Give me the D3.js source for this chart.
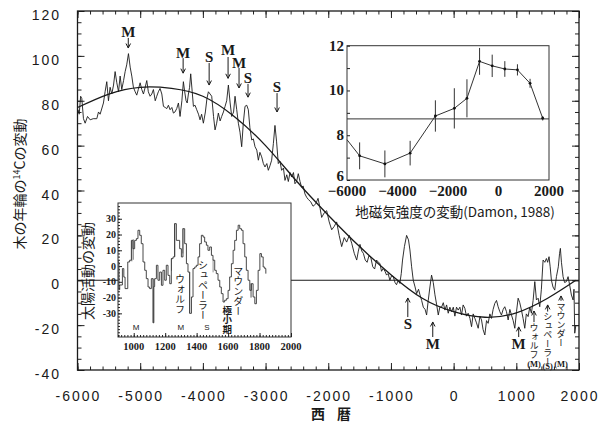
<!DOCTYPE html>
<html>
<head>
<meta charset="utf-8">
<script src="https://cdn.jsdelivr.net/npm/d3@7"></script>
<style>
body { margin: 0; background: #fff; }
svg text { fill: #1a1a1a; }
.domain { display: none; }
.tick line { stroke: #222; stroke-width: 1; }
.jp { font-family: "Noto Sans CJK JP", sans-serif; }
.num { font-family: "Liberation Sans", Arial, sans-serif; }
.serif { font-family: "Liberation Serif", "Times New Roman", serif; font-weight: bold; }
</style>
</head>
<body>
<svg id="chart" width="612" height="426"></svg>
<script>
// 14C record from tree rings (year, permil)
var c14 = [[-5990,76],[-5973,74],[-5950,82],[-5931,81],[-5905,72],[-5878,70],[-5840,73],[-5798,71.5],[-5750,72],[-5692,72],[-5665,75],[-5639,74],[-5586,79],[-5560,84],[-5533,88.5],[-5506,80],[-5480,86],[-5453,83],[-5425,87],[-5400,93],[-5373,88],[-5345,84],[-5320,91],[-5294,85],[-5265,89],[-5240,93],[-5215,96],[-5187,101],[-5160,95],[-5134,91],[-5108,86],[-5080,84],[-5055,82.5],[-5030,85],[-5001,88],[-4975,85],[-4948,83],[-4920,86],[-4895,89],[-4870,84],[-4842,82],[-4815,83],[-4789,85],[-4760,80],[-4736,82],[-4710,84],[-4683,85.5],[-4655,83],[-4629,77.5],[-4600,77],[-4576,76.5],[-4550,78],[-4523,76],[-4495,77],[-4470,74.5],[-4445,75],[-4417,76.5],[-4390,79],[-4364,73],[-4335,80],[-4311,88.5],[-4290,84],[-4268,80],[-4250,79],[-4231,83],[-4212,86],[-4194,92],[-4170,84],[-4151,77.5],[-4125,78],[-4098,76],[-4070,74],[-4045,71.5],[-4020,74],[-3992,70],[-3960,75],[-3935,81],[-3912,84],[-3885,83],[-3859,82],[-3830,73],[-3806,67],[-3780,70],[-3753,74.5],[-3725,71],[-3700,73],[-3672,75],[-3646,77.5],[-3620,80],[-3593,87],[-3565,79],[-3540,73],[-3510,75],[-3487,82],[-3460,76],[-3434,70],[-3408,66],[-3381,59.5],[-3355,70],[-3328,77.5],[-3300,78],[-3275,76],[-3250,68],[-3221,62.5],[-3195,63],[-3168,59.5],[-3140,58],[-3115,53.5],[-3090,57],[-3062,55],[-3035,52],[-3009,50.5],[-2980,52],[-2956,49],[-2930,51],[-2903,53.5],[-2875,61],[-2850,69],[-2825,62],[-2797,52],[-2770,53],[-2744,49],[-2715,50],[-2690,44.5],[-2662,47],[-2637,44],[-2610,48],[-2584,46],[-2555,48],[-2531,43],[-2505,44],[-2478,47.5],[-2450,44],[-2425,41.5],[-2400,42],[-2372,38.5],[-2345,37],[-2318,36],[-2280,35],[-2243,33],[-2200,34],[-2163,36.5],[-2130,32],[-2105,28],[-2065,30],[-2025,31],[-1985,26],[-1945,22.5],[-1905,24],[-1866,26],[-1826,20],[-1786,15],[-1745,19],[-1706,17],[-1665,20],[-1626,16.5],[-1585,12],[-1546,9],[-1520,13],[-1494,16],[-1465,13],[-1440,12],[-1410,9],[-1380,8],[-1350,11],[-1320,10],[-1290,6],[-1260,5],[-1230,9],[-1200,8],[-1176,7.5],[-1150,4],[-1123,5.3],[-1095,4],[-1070,2.3],[-1045,3],[-1017,0],[-990,2],[-964,1.6],[-935,-1],[-911,-2],[-885,0],[-858,-1.4],[-835,3],[-815,9],[-785,15],[-750,20],[-720,18],[-697,13.5],[-670,6],[-644,0],[-615,-3],[-590,-6],[-560,-4],[-537,-6.5],[-510,-9],[-484,-12],[-455,-13],[-431,-15.5],[-405,-9],[-378,-3],[-352,2.3],[-325,-1],[-298,-6.5],[-270,-11],[-245,-15.5],[-220,-12],[-192,-12],[-165,-10],[-139,-13.3],[-112,-11],[-86,-14.7],[-60,-12],[-33,-14],[-5,-12],[20,-16],[46,-12],[73,-13.3],[100,-12],[126,-15.5],[152,-11],[179,-12.5],[205,-16],[232,-14.7],[260,-17],[286,-20.7],[312,-15],[339,-17],[365,-19],[392,-21.4],[420,-16],[445,-17.7],[470,-22],[498,-24.4],[525,-18],[551,-19.2],[578,-15],[604,-17],[630,-13],[657,-10.3],[684,-9],[710,-11.8],[737,-14],[763,-15.5],[790,-13],[816,-11.8],[843,-14],[870,-17.7],[897,-13],[923,-15.5],[950,-18],[976,-21.4],[1003,-14],[1029,-8],[1055,-10],[1082,-13.3],[1108,-17],[1135,-21.4],[1160,-15],[1188,-16.2],[1215,-12],[1241,-14.7],[1268,-9],[1295,-0.6],[1321,-8.8],[1348,-8],[1374,-11.8],[1400,-4],[1427,9],[1455,8],[1480,9.7],[1500,8],[1522,10.5],[1540,6],[1560,0],[1585,-3],[1613,-4.4],[1640,1.6],[1670,6],[1690,12],[1703,14.2],[1720,8],[1746,1.6],[1770,-1],[1799,-0.6],[1826,1.6],[1850,-2],[1879,-6.6],[1906,-8.8],[1920,-4],[1932,-23.6],[1950,-20]];

// long-term trend curve
var trend = [[-6000,77],[-5500,83],[-5000,86],[-4500,85.5],[-4000,82],[-3500,73],[-3000,60],[-2500,44],[-2000,29],[-1500,15],[-1000,2.5],[-500,-8],[0,-14],[500,-16.5],[1000,-14.5],[1500,-8],[1950,0]];

// geomagnetic field intensity (Damon, 1988): year, value, error
var geoYears = [-5500,-4500,-3500,-2500,-1750,-1250,-750,-250,250,750,1250,1750];
var geoVals  = [7.08,6.72,7.2,8.86,9.2,9.65,11.3,11.1,10.96,10.92,10.32,8.76];
var geoErr   = [0.6,0.6,0.55,0.7,0.9,0.85,0.6,0.5,0.35,0.25,0.2,0.1];
var geoStart = [-6000,7.8];
var geoMean = 8.73;

// solar activity (step series)
var solar = [[900,2.6],[906,-15],[911,-12],[928,-1.6],[937,-7],[945,-14.3],[962,2.6],[974,3.7],[985,16.3],[995,11],[1006,16.3],[1017,17.4],[1027,22.7],[1038,19.5],[1048,14.2],[1059,2.6],[1070,-2.7],[1080,-8],[1091,-13.3],[1101,-14.3],[1112,-8],[1123,-36],[1128,-13],[1133,-8],[1144,0.5],[1154,-9],[1165,-3.8],[1176,-12.2],[1186,-2.7],[1197,-9],[1207,0.5],[1218,-5.9],[1229,-11.2],[1239,4.7],[1250,5.8],[1260,26.9],[1271,16.3],[1282,16.3],[1292,11],[1303,5.8],[1313,23.7],[1324,14.2],[1335,1.5],[1345,-3.8],[1356,-30],[1367,-19.6],[1377,-1.6],[1388,-0.6],[1398,0.5],[1409,5.8],[1419,14.2],[1430,19.5],[1441,18.4],[1451,15.3],[1462,13.2],[1472,10],[1483,12.1],[1494,6.8],[1504,3.7],[1515,-2.7],[1525,-4.8],[1536,-9],[1547,-13.3],[1557,-17.5],[1568,-22.8],[1578,-21.7],[1589,-20.7],[1600,-15.4],[1610,-6.9],[1621,1.5],[1632,10],[1642,16.3],[1653,22.7],[1664,25.9],[1674,23.7],[1685,22.7],[1695,14.2],[1706,5.8],[1716,-2.7],[1727,-9],[1738,-15.4],[1748,-11.2],[1759,-19.6],[1770,-23.9],[1780,-15.4],[1791,-2.7],[1802,7.9],[1812,5.8],[1823,-0.6],[1833,-1.6],[1840,-4.8]];
// shaded (hatched) bars in the solar series: year from, year to, low, high
var solarShade = [[900,905,-15,3],[985,991,3,16],[994,1000,4,17],[1121,1126,-36,-8],[1237,1242,-3,5],[1257,1264,6,27],[1310,1315,8,24],[1352,1358,-30,-4],[1502,1507,-4,4],[1742,1750,-20,-11]];

var mainXTicks = [-6000,-5000,-4000,-3000,-2000,-1000,0,1000,2000];
var mainYTicks = [-40,-20,0,20,40,60,80,100,120];
var geoXTicks = [-6000,-4000,-2000,0,2000];
var geoYTicks = [6,8,10,12];
var solarXTicks = [1000,1200,1400,1600,1800,2000];
var solarYTicks = [-30,-20,-10,0,10,20,30];

// M / S markers on the main record (label, year, label value, arrow from, arrow to)
var marksDown = [["M",-5190,110.6,108,103.5],["M",-4315,101.3,99,92.3],["S",-3900,99.5,96.8,87],
  ["M",-3598,102.6,99.5,90],["M",-3423,96.8,94.6,85.7],["S",-3280,90.1,87.5,81.6],["S",-2817,86.1,83.4,75]];
var marksUp = [["S",-731,-19.5,-16.4,-7.9],["M",-333,-28.4,-25.3,-18.6],["M",1038,-28.4,-25.3,-20.8]];
// minima: name, type, year, text top, type label, arrow tip
var minima = [["ウォルフ","(M)",1282,-19.1,-37.2,-13.7],["シュペーラー","(S)",1500,-14.4,-38,-11],["マウンダー","(M)",1713,-9.6,-37.2,-7]];

var svg = d3.select("#chart");
var x = d3.scaleLinear().domain([-6000,2000]).range([77.5,579]);
var y = d3.scaleLinear().domain([-40,120]).range([370,11]);

// ticks on four sides, pointing inward
function inTicks(axis, tr, vals, len) {
	svg.append("g").attr("transform", tr)
		.call(axis.tickValues(vals).tickSize(-len).tickFormat(""));
}
inTicks(d3.axisBottom(x), "translate(0,370)", d3.range(-6000,2001,200), 3.5);
inTicks(d3.axisBottom(x), "translate(0,370)", mainXTicks, 7);
inTicks(d3.axisTop(x), "translate(0,11)", d3.range(-6000,2001,200), 3.5);
inTicks(d3.axisTop(x), "translate(0,11)", mainXTicks, 7);
inTicks(d3.axisLeft(y), "translate(77.5,0)", d3.range(-40,121,5), 4);
inTicks(d3.axisLeft(y), "translate(77.5,0)", mainYTicks, 7);
inTicks(d3.axisRight(y), "translate(579,0)", d3.range(-40,121,5), 4);
inTicks(d3.axisRight(y), "translate(579,0)", mainYTicks, 7);

svg.append("rect").attr("x",77.5).attr("y",11).attr("width",579-77.5).attr("height",359)
	.attr("fill","none").attr("stroke","#1a1a1a").attr("stroke-width",1.3);

svg.selectAll("text.xl").data(mainXTicks).enter().append("text")
	.attr("class","num").attr("x", function(d){ return x(d) + 1; }).attr("y",401)
	.attr("text-anchor","middle").style("font-size","14px").style("letter-spacing","2px")
	.text(function(d){ return d; });
svg.selectAll("text.yl").data(mainYTicks).enter().append("text")
	.attr("class","num").attr("x",61).attr("y", function(d){ return y(d) + 9; })
	.attr("text-anchor","end").style("font-size","14px").style("letter-spacing","2px")
	.text(function(d){ return d; });

svg.append("text").attr("class","jp").attr("x",337).attr("y",419).attr("text-anchor","middle")
	.style("font-size","14px").style("font-weight","bold").style("letter-spacing","12px").text("西暦");

var yl = svg.append("text").attr("class","jp").attr("transform","translate(25,184) rotate(-90)")
	.attr("text-anchor","middle").style("font-size","14px");
yl.append("tspan").text("木の年輪の");
yl.append("tspan").style("font-size","9px").attr("dy",-5).text("14");
yl.append("tspan").attr("dy",5).text("Cの変動");

// zero line, record and trend
svg.append("line").attr("x1",x(-6000)).attr("x2",x(2000)).attr("y1",y(0)).attr("y2",y(0))
	.attr("stroke","#1a1a1a").attr("stroke-width",1);
var lineRaw = d3.line().x(function(d){ return x(d[0]); }).y(function(d){ return y(d[1]); });
var lineSmooth = d3.line().curve(d3.curveNatural).x(function(d){ return x(d[0]); }).y(function(d){ return y(d[1]); });
svg.append("path").datum(c14).attr("d",lineRaw).attr("fill","none").attr("stroke","#1a1a1a").attr("stroke-width",0.9);
svg.append("path").datum(trend).attr("d",lineSmooth).attr("fill","none").attr("stroke","#1a1a1a").attr("stroke-width",1.3);

// arrows
function arrow(xp, y0, y1) {
	var d = y1 > y0 ? 1 : -1;
	svg.append("path").attr("d","M"+xp+","+y0+"L"+xp+","+y1+"M"+(xp-2.3)+","+(y1-d*4.5)+"L"+xp+","+y1+"L"+(xp+2.3)+","+(y1-d*4.5))
		.attr("fill","none").attr("stroke","#1a1a1a").attr("stroke-width",1);
}
marksDown.concat(marksUp).forEach(function(m) {
	svg.append("text").attr("class","serif").attr("x",x(m[1])).attr("y",y(m[2]))
		.attr("text-anchor","middle").attr("dominant-baseline","central").style("font-size","15px").text(m[0]);
	arrow(x(m[1]), y(m[3]), y(m[4]));
});
minima.forEach(function(m) {
	var xp = x(m[2]);
	arrow(xp, y(m[3]) - 1, y(m[5]));
	svg.append("text").attr("class","jp").attr("x",xp).attr("y",y(m[3]))
		.style("writing-mode","vertical-rl").style("font-size","9px").text(m[0]);
	svg.append("text").attr("class","serif").attr("x",xp).attr("y",y(m[4]))
		.attr("text-anchor","middle").attr("dominant-baseline","central")
		.style("font-size","8.5px").text(m[1]);
});

// ---- inset: geomagnetic intensity ----
var gx = d3.scaleLinear().domain([-6000,2000]).range([347,549]);
var gy = d3.scaleLinear().domain([6,12]).range([180,45.7]);
var g1 = svg.append("g");
g1.append("rect").attr("x",347).attr("y",45.7).attr("width",202).attr("height",134.3)
	.attr("fill","#fff").attr("stroke","#333").attr("stroke-width",1);
g1.append("g").attr("transform","translate(347,0)")
	.call(d3.axisLeft(gy).tickValues(d3.range(6,12.1,1)).tickSize(-3).tickFormat(""));
g1.append("line").attr("x1",347).attr("x2",549).attr("y1",gy(geoMean)).attr("y2",gy(geoMean))
	.attr("stroke","#333").attr("stroke-width",1);
var geo = [geoStart].concat(geoYears.map(function(d,i){ return [d, geoVals[i]]; }));
g1.append("path").datum(geo).attr("fill","none").attr("stroke","#333").attr("stroke-width",1)
	.attr("d", d3.line().x(function(d){ return gx(d[0]); }).y(function(d){ return gy(d[1]); }));
g1.selectAll("line.err").data(geoYears).enter().append("line")
	.attr("x1",function(d){ return gx(d); }).attr("x2",function(d){ return gx(d); })
	.attr("y1",function(d,i){ return gy(geoVals[i] - geoErr[i]); })
	.attr("y2",function(d,i){ return gy(geoVals[i] + geoErr[i]); })
	.attr("stroke","#333").attr("stroke-width",1);
g1.selectAll("circle").data(geoYears).enter().append("circle")
	.attr("cx",function(d){ return gx(d); }).attr("cy",function(d,i){ return gy(geoVals[i]); })
	.attr("r",1.4).attr("fill","#111");
g1.selectAll("text.gy").data(geoYTicks).enter().append("text")
	.attr("class","serif").attr("x",344).attr("y",function(d){ return Math.min(gy(d) + 5, 181); })
	.attr("text-anchor","end").style("font-size","15px").text(function(d){ return d; });
g1.selectAll("text.gx").data(geoXTicks).enter().append("text")
	.attr("class","serif").attr("x",function(d){ return gx(d); }).attr("y",196)
	.attr("text-anchor","middle").style("font-size","15px")
	.text(function(d){ return d < 0 ? "\u2212" + (-d) : d; });
g1.append("text").attr("class","jp").attr("x",455).attr("y",217).attr("text-anchor","middle")
	.style("font-size","13.5px").text("地磁気強度の変動(Damon, 1988)");

// ---- inset: solar activity ----
var sx = d3.scaleLinear().domain([900,2000]).range([118,291]);
var sy = d3.scaleLinear().domain([-45,40]).range([337,203]);
var g2 = svg.append("g");
g2.append("rect").attr("x",118).attr("y",203).attr("width",173).attr("height",134)
	.attr("fill","#fff").attr("stroke","#333").attr("stroke-width",1);
g2.append("g").attr("transform","translate(118,0)")
	.call(d3.axisLeft(sy).tickValues(d3.range(-44,40,2)).tickSize(-2).tickFormat(""));
g2.append("g").attr("transform","translate(118,0)")
	.call(d3.axisLeft(sy).tickValues(solarYTicks).tickSize(-4).tickFormat(""));
g2.append("g").attr("transform","translate(0,337)")
	.call(d3.axisBottom(sx).tickValues(d3.range(900,2001,20)).tickSize(-2).tickFormat(""));
g2.append("g").attr("transform","translate(0,337)")
	.call(d3.axisBottom(sx).tickValues(solarXTicks).tickSize(-4).tickFormat(""));
g2.selectAll("rect.sh").data(solarShade).enter().append("rect")
	.attr("x",function(d){ return sx(d[0]); }).attr("width",function(d){ return sx(d[1]) - sx(d[0]); })
	.attr("y",function(d){ return sy(d[3]); }).attr("height",function(d){ return sy(d[2]) - sy(d[3]); })
	.attr("fill","#777");
g2.append("path").datum(solar).attr("fill","none").attr("stroke","#333").attr("stroke-width",0.9)
	.attr("d", d3.line().curve(d3.curveStepAfter).x(function(d){ return sx(d[0]); }).y(function(d){ return sy(d[1]); }));
g2.selectAll("text.sy").data(solarYTicks).enter().append("text")
	.attr("class","serif").attr("x",116).attr("y",function(d){ return sy(d) + 3.5; })
	.attr("text-anchor","end").style("font-size","10px").text(function(d){ return d; });
g2.selectAll("text.sx").data(solarXTicks).enter().append("text")
	.attr("class","serif").attr("x",function(d){ return sx(d); }).attr("y",350)
	.attr("text-anchor","middle").style("font-size","10.5px").text(function(d){ return d; });
svg.append("text").attr("class","jp").attr("transform","translate(93,271) rotate(-90)")
	.attr("text-anchor","middle").style("font-size","14px").text("太陽活動の変動");
[["M",1015],["M",1300],["S",1465]].forEach(function(m) {
	g2.append("text").attr("class","num").attr("x",sx(m[1])).attr("y",330)
		.attr("text-anchor","middle").style("font-size","8px").text(m[0]);
});
[["ウォルフ",1295,-5],["シュペーラー",1440,4],["マウンダー",1665,0]].forEach(function(m) {
	g2.append("text").attr("class","jp").attr("x",sx(m[1])).attr("y",sy(m[2]))
		.style("writing-mode","vertical-rl").style("font-size","10px").text(m[0]);
});
g2.append("text").attr("class","jp").attr("x",sx(1595)).attr("y",sy(-25))
	.style("writing-mode","vertical-rl").style("font-size","9.5px").style("font-weight","bold").text("極小期");
</script>
</body>
</html>
